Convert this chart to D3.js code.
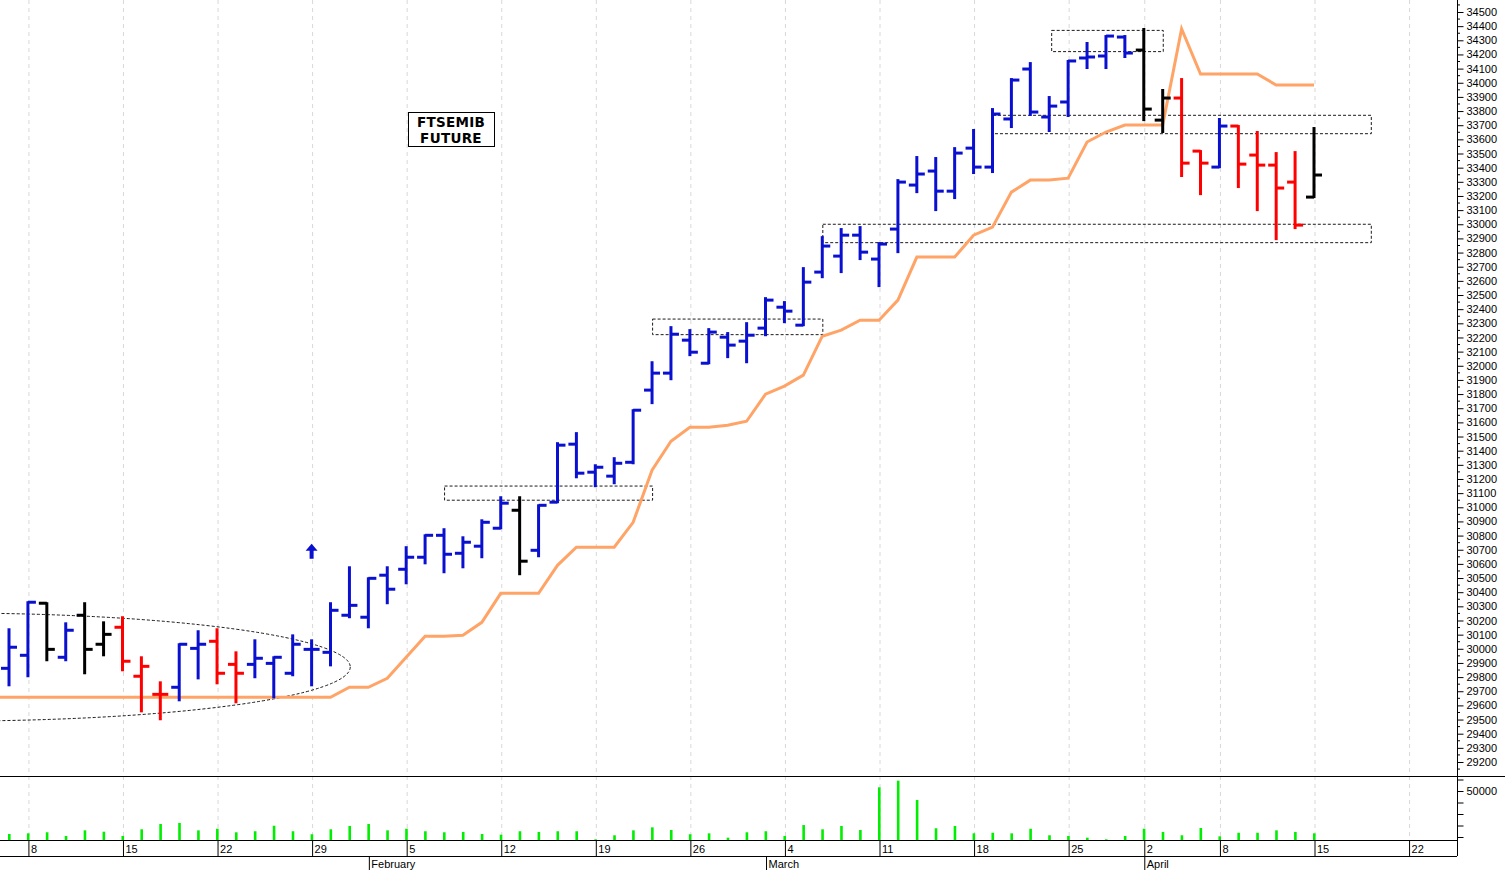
<!DOCTYPE html>
<html>
<head>
<meta charset="utf-8">
<script src="https://cdn.jsdelivr.net/npm/d3@7"></script>
<style>
  body { margin: 0; background: #fff; }
  svg { display: block; font-family: "Liberation Sans", Arial, sans-serif; }
</style>
</head>
<body>
<div id="chart"></div>
<script>
// trading days, Jan 5 .. Apr 15 (2024)
const dates = ["01-05","01-08","01-09","01-10","01-11","01-12","01-15","01-16","01-17","01-18","01-19",
  "01-22","01-23","01-24","01-25","01-26","01-29","01-30","01-31","02-01","02-02",
  "02-05","02-06","02-07","02-08","02-09","02-12","02-13","02-14","02-15","02-16",
  "02-19","02-20","02-21","02-22","02-23","02-26","02-27","02-28","02-29","03-01",
  "03-04","03-05","03-06","03-07","03-08","03-11","03-12","03-13","03-14","03-15",
  "03-18","03-19","03-20","03-21","03-22","03-25","03-26","03-27","03-28",
  "04-02","04-03","04-04","04-05","04-08","04-09","04-10","04-11","04-12","04-15"]

// open, high, low, close
const ohlc = [
  [29862,30138,29742,30011],[29954,30329,29806,30329],[30322,30322,29919,29996],[29940,30180,29919,30131],
  [30237,30322,29827,29996],[30032,30187,29954,30102],[30152,30223,29848,29912],[29806,29940,29558,29876],
  [29678,29763,29502,29678],[29728,30032,29636,30032],[30003,30124,29791,30032],[30053,30138,29756,29827],
  [29890,29975,29622,29827],[29890,30060,29799,29933],[29897,29940,29657,29940],[29827,30095,29813,30032],
  [29996,30060,29742,29996],[29975,30322,29883,30272],[30237,30576,30223,30307],[30223,30498,30152,30498],
  [30520,30576,30322,30421],[30562,30718,30463,30647],[30647,30802,30604,30802],[30802,30845,30541,30668],
  [30675,30788,30576,30753],[30725,30908,30647,30894],[30852,31071,30852,31029],[30979,31071,30527,30619],
  [30696,31014,30654,31014],[31036,31453,31036,31439],[31446,31524,31212,31241],[31248,31297,31149,31283],
  [31220,31347,31170,31311],[31318,31686,31311,31686],[31828,32025,31736,31948],[31948,32273,31905,32223],
  [32181,32252,32075,32096],[32018,32259,32018,32238],[32202,32231,32061,32146],[32174,32301,32025,32216],
  [32266,32478,32216,32464],[32414,32450,32308,32386],[32287,32690,32287,32591],[32662,32909,32626,32846],
  [32775,32966,32662,32923],[32923,32980,32754,32803],[32754,32867,32563,32860],[32966,33312,32803,33298],
  [33277,33475,33227,33355],[33376,33468,33100,33234],[33234,33538,33185,33503],[33538,33666,33362,33404],
  [33404,33814,33369,33779],[33744,34026,33687,34019],[34097,34139,33772,33793],[33758,33899,33659,33835],
  [33864,34154,33765,34154],[34175,34281,34104,34182],[34189,34330,34104,34330],[34323,34330,34182,34210],
  [34231,34380,33736,33814],[33736,33949,33652,33892],[33892,34026,33341,33432],[33517,33517,33213,33432],
  [33404,33744,33404,33694],[33694,33694,33263,33425],[33489,33652,33100,33418],[33418,33503,32895,33256],
  [33298,33510,32973,32994],[33192,33680,33192,33348]]

// bar colour code: b blue, k black, r red
const barColor = "bbkbkkrrrbbrrbbbbbbbbbbbbbbkbbbbbbbbbbbbbbbbbbbbbbbbbbbbbbbbkkrrbrrrrk"

const trail = [29657,29657,29657,29657,29657,29657,29657,29657,29657,29657,29657,29657,29657,29657,29657,29657,29657,29657,
  29728,29728,29791,29940,30088,30088,30095,30187,30392,30392,30392,30590,30718,30718,30718,30894,31262,31467,
  31566,31566,31580,31608,31799,31856,31934,32209,32252,32322,32322,32464,32768,32768,32768,32923,32980,33227,
  33312,33312,33326,33581,33652,33701,33701,33701,34380,34062,34062,34062,34062,33984,33984,33984]

const volume = [12600,13200,14100,10900,15800,14600,10900,16700,21300,22200,15800,17200,14100,15000,19800,15000,
  12400,16700,19600,21300,15800,17200,15000,14100,14400,12600,12000,15000,14400,15000,15000,8000,11500,15800,
  18400,16100,12400,13200,9400,14100,15000,10900,20400,16700,19600,16100,53200,59000,42200,17600,19600,13200,
  13700,13200,17200,11500,10900,9400,8000,10900,17200,14400,11500,17800,10600,13700,13700,15800,14400,13200]

// week starts shown on the axis (index into dates, label)
const weekTicks = [[1,"8"],[6,"15"],[11,"22"],[16,"29"],[21,"5"],[26,"12"],[31,"19"],[36,"26"],[41,"4"],
  [46,"11"],[51,"18"],[56,"25"],[60,"2"],[64,"8"],[69,"15"],[74,"22"]]
const monthTicks = [[19,"February"],[40,"March"],[60,"April"]]

// dashed boxes: start index, top price, end index, bottom price
const boxes = [[23.4, 31150, 34.4, 31050], [34.4, 32330, 43.4, 32220], [43.4, 33000, 72.4, 32870],
  [55.5, 34370, 61.4, 34220], [52.4, 33770, 72.4, 33640]]

const W = 1505, H = 870
const axisX = 1457
const colors = { b: "#0a10d0", k: "#000", r: "#ff0000" }

const svg = d3.select("#chart").append("svg").attr("width", W).attr("height", H)

const x = d3.scaleLinear().domain([0, 69]).range([9, 1314])
const y = d3.scaleLinear().domain([29200, 34500]).range([762, 12])
const yv = d3.scaleLinear().domain([0, 50000]).range([848.5, 791])

// vertical grid
svg.append("g").selectAll("line").data(weekTicks).enter().append("line")
  .attr("x1", d => x(d[0]) + 1).attr("x2", d => x(d[0]) + 1)
  .attr("y1", 0).attr("y2", 840)
  .attr("stroke", "#d8d8d8").attr("stroke-dasharray", "4,4")

// annotations
const ann = svg.append("g").attr("fill", "none").attr("stroke", "#000").attr("stroke-dasharray", "3,2").attr("stroke-width", 0.9)
ann.append("ellipse").attr("cx", x(-3)).attr("cy", y(29871)).attr("rx", 398).attr("ry", 54)
boxes.forEach(b => ann.append("rect")
  .attr("x", x(b[0]) - 7).attr("y", y(b[1]))
  .attr("width", x(b[2]) - x(b[0])).attr("height", y(b[3]) - y(b[1])))

// trailing line
svg.append("path").datum(trail)
  .attr("d", d3.line().x((d, i) => i === 0 ? 0 : x(i)).y(d => y(d)))
  .attr("fill", "none").attr("stroke", "#ffa466").attr("stroke-width", 3)

// OHLC bars
const bars = svg.append("g").selectAll("g").data(ohlc).enter().append("g")
  .attr("stroke", (d, i) => colors[barColor[i]]).attr("stroke-width", 3)
bars.append("line").attr("x1", (d, i) => x(i)).attr("x2", (d, i) => x(i))
  .attr("y1", d => y(d[1]) - 1).attr("y2", d => y(d[2]) + 1)
bars.append("line").attr("x1", (d, i) => x(i) - 8).attr("x2", (d, i) => x(i))
  .attr("y1", d => y(d[0])).attr("y2", d => y(d[0]))
bars.append("line").attr("x1", (d, i) => x(i)).attr("x2", (d, i) => x(i) + 8)
  .attr("y1", d => y(d[3])).attr("y2", d => y(d[3]))

// buy arrow
const ax = x(16), ay = y(30650)
svg.append("path")
  .attr("d", `M${ax},${ay - 13} L${ax + 6},${ay - 6} L${ax + 2},${ay - 6} L${ax + 2},${ay + 2} L${ax - 2},${ay + 2} L${ax - 2},${ay - 6} L${ax - 6},${ay - 6} Z`)
  .attr("fill", "#0a10d0")

// title box
const tb = svg.append("g")
tb.append("rect").attr("x", 408.5).attr("y", 112.5).attr("width", 86).attr("height", 34)
  .attr("fill", "#fff").attr("stroke", "#000")
tb.selectAll("text").data(["FTSEMIB", "FUTURE"]).enter().append("text")
  .attr("x", 451).attr("y", (d, i) => 127 + i * 16).attr("text-anchor", "middle")
  .attr("font-family", "DejaVu Sans, sans-serif").attr("font-weight", "bold").attr("font-size", 13.5)
  .attr("letter-spacing", 0.3).text(d => d)

// volume bars
svg.append("g").selectAll("rect").data(volume).enter().append("rect")
  .attr("x", (d, i) => x(i) - 1).attr("width", 2.6)
  .attr("y", d => yv(d)).attr("height", d => Math.max(0, 840 - yv(d)))
  .attr("fill", "#00ee00")

// panel lines
const frame = svg.append("g").attr("stroke", "#000")
frame.append("line").attr("x1", 0).attr("x2", W).attr("y1", 776.5).attr("y2", 776.5)
frame.append("line").attr("x1", 0).attr("x2", axisX).attr("y1", 840.5).attr("y2", 840.5)
frame.append("line").attr("x1", 0).attr("x2", axisX).attr("y1", 856.5).attr("y2", 856.5)
frame.append("line").attr("x1", axisX + 0.5).attr("x2", axisX + 0.5).attr("y1", 0).attr("y2", 856)

// price axis
const priceAxis = d3.axisRight(y).tickValues(d3.range(29200, 34501, 100)).tickSize(6).tickPadding(3)
  .tickFormat(d3.format("d"))
const pa = svg.append("g").attr("transform", `translate(${axisX + 0.5},0)`).call(priceAxis)
pa.select(".domain").remove()
pa.selectAll("text").attr("font-size", 11).attr("font-family", "Liberation Sans, Arial, sans-serif")
svg.append("g").selectAll("line").data(d3.range(29150, 34600, 100)).enter().append("line")
  .attr("x1", axisX).attr("x2", axisX + 3).attr("y1", d => y(d)).attr("y2", d => y(d)).attr("stroke", "#000")

// volume axis
const volAxis = d3.axisRight(yv).tickValues([10000, 20000, 30000, 40000, 50000, 60000]).tickSize(6)
  .tickFormat(d => d === 50000 ? "50000" : "")
const va = svg.append("g").attr("transform", `translate(${axisX + 0.5},0)`).call(volAxis)
va.select(".domain").remove()
va.selectAll("text").attr("font-size", 11).attr("font-family", "Liberation Sans, Arial, sans-serif")

// date axis
const da = svg.append("g")
da.selectAll("line").data(weekTicks).enter().append("line")
  .attr("x1", d => x(d[0]) + 1).attr("x2", d => x(d[0]) + 1)
  .attr("y1", 840).attr("y2", 856).attr("stroke", "#000")
da.selectAll("text").data(weekTicks).enter().append("text")
  .attr("x", d => x(d[0]) + 3).attr("y", 853).attr("font-size", 11).text(d => d[1])
const ma = svg.append("g")
ma.selectAll("line").data(monthTicks).enter().append("line")
  .attr("x1", d => x(d[0]) + 1).attr("x2", d => x(d[0]) + 1)
  .attr("y1", 856).attr("y2", 870).attr("stroke", "#000")
ma.selectAll("text").data(monthTicks).enter().append("text")
  .attr("x", d => x(d[0]) + 3).attr("y", 868).attr("font-size", 11).text(d => d[1])
</script>
</body>
</html>
